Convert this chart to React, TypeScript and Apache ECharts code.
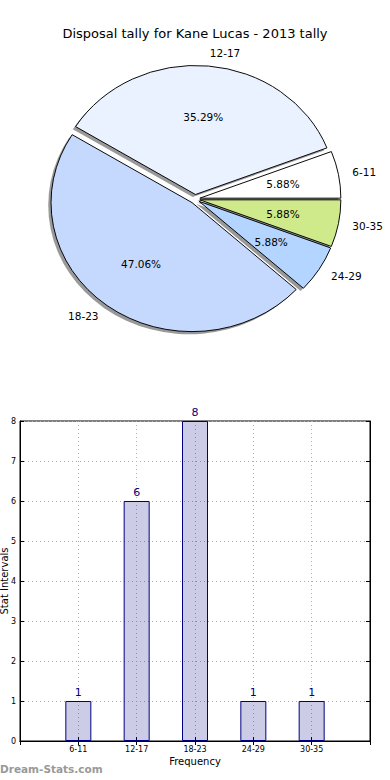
import React, { useEffect, useRef } from "react";
import * as echarts from "echarts";

const titleText = "Disposal tally for Kane Lucas - 2013 tally";
const categories = ["6-11", "12-17", "18-23", "24-29", "30-35"];
const tally = [1, 6, 8, 1, 1];
const yTicks = [0, 1, 2, 3, 4, 5, 6, 7, 8];
const sliceColors = ["#ffffff", "#eaf2ff", "#c5d9ff", "#b3d5ff", "#cfea8b"];

const FONT = "DejaVu Sans, Liberation Sans, sans-serif";

export default function App() {
  const ref = useRef<HTMLDivElement>(null);
  useEffect(() => {
    if (!ref.current) return;
    const chart = echarts.init(ref.current, undefined, { renderer: "svg" });
    const total = tally.reduce((a, b) => a + b, 0);
    const cum: number[] = [];
    let acc = 0;
    for (const v of tally) {
      cum.push(acc);
      acc += v;
    }
    const cx = 195;
    const cy = 199;
    const rx = 141;
    const ry = 129;
    const explode = 0.035;

    const geom = (i: number, v: number) => {
      const a0 = (cum[i] / total) * Math.PI * 2;
      const a1 = ((cum[i] + v) / total) * Math.PI * 2;
      const mid = (a0 + a1) / 2;
      const dx = explode * rx * Math.cos(mid);
      const dy = -explode * ry * Math.sin(mid);
      return { a0, a1, mid, dx, dy };
    };

    const shadowRender = (params: any, api: any) => {
      const i = params.dataIndex;
      const v = api.value(0);
      const g = geom(i, v);
      return {
        type: "sector",
        x: cx + g.dx - 2.8,
        y: cy + g.dy + 2.6,
        scaleY: ry / rx,
        shape: { cx: 0, cy: 0, r: rx, r0: 0, startAngle: -g.a1, endAngle: -g.a0, clockwise: true },
        style: { fill: "rgba(0,0,0,0.4)", stroke: "none" },
      };
    };

    const sliceRender = (params: any, api: any) => {
      const i = params.dataIndex;
      const v = api.value(0);
      const g = geom(i, v);
      const c = Math.cos(g.mid);
      const s = Math.sin(g.mid);
      const pct = ((v / total) * 100).toFixed(2) + "%";
      return {
        type: "group",
        children: [
          {
            type: "sector",
            x: cx + g.dx,
            y: cy + g.dy,
            scaleY: ry / rx,
            shape: { cx: 0, cy: 0, r: rx, r0: 0, startAngle: -g.a1, endAngle: -g.a0, clockwise: true },
            style: { fill: sliceColors[i], stroke: "#000", lineWidth: 1, strokeNoScale: true },
          },
          {
            type: "text",
            x: cx + g.dx + 0.6 * rx * c,
            y: cy + g.dy - 0.6 * ry * s,
            style: {
              text: pct,
              fill: "#000",
              font: `10.5px ${FONT}`,
              align: "center",
              verticalAlign: "middle",
            },
            z2: 20,
          },
          {
            type: "text",
            x: cx + g.dx + 1.1 * rx * c,
            y: cy + g.dy - 1.1 * ry * s,
            style: {
              text: categories[i],
              fill: "#000",
              font: `10.5px ${FONT}`,
              align: c >= 0 ? "left" : "right",
              verticalAlign: "middle",
            },
            z2: 20,
          },
        ],
      };
    };

    const padded = ["", ...categories, ""];
    const barData = [null, ...tally, null];

    chart.setOption({
      animation: false,
      textStyle: { fontFamily: FONT },
      title: {
        text: titleText,
        left: "center",
        top: 22,
        textStyle: { fontSize: 13, fontWeight: "normal", color: "#000", fontFamily: FONT },
      },
      grid: {
        left: 20,
        right: 20,
        top: 421,
        bottom: 39,
        show: true,
        borderColor: "#000",
        borderWidth: 1,
        backgroundColor: "transparent",
        containLabel: false,
        outerBoundsMode: "none",
      },
      xAxis: [
        {
          type: "category",
          data: padded,
          boundaryGap: false,
          axisLine: { show: true, lineStyle: { color: "#000", width: 1 } },
          axisTick: { show: true, inside: true, length: 4, lineStyle: { color: "#000" }, interval: 0 },
          axisLabel: { fontSize: 8, color: "#000", fontFamily: FONT, margin: 4, interval: 0 },
          splitLine: { show: true, interval: 0, lineStyle: { color: "#b0b0b0", type: [1, 3], width: 1 } },
          name: "Frequency",
          nameLocation: "middle",
          nameGap: 15,
          nameMoveOverlap: false,
          nameTextStyle: { fontSize: 10, color: "#000", fontFamily: FONT },
        },
        {
          type: "category",
          data: padded,
          boundaryGap: false,
          position: "top",
          axisLine: { show: true, lineStyle: { color: "#000", width: 1 } },
          axisTick: { show: true, inside: true, length: 4, lineStyle: { color: "#000" }, interval: 0 },
          axisLabel: { show: false },
          splitLine: { show: false },
        },
      ],
      yAxis: [
        {
          type: "value",
          min: yTicks[0],
          max: yTicks[yTicks.length - 1],
          interval: 1,
          axisLine: { show: true, lineStyle: { color: "#000", width: 1 } },
          axisTick: { show: true, inside: true, length: 4, lineStyle: { color: "#000" } },
          axisLabel: { fontSize: 8, color: "#000", fontFamily: FONT, margin: 4 },
          splitLine: { show: true, lineStyle: { color: "#b0b0b0", type: [1, 3], width: 1 } },
          name: "Stat Intervals",
          nameLocation: "middle",
          nameRotate: 90,
          nameGap: 11,
          nameMoveOverlap: false,
          nameTextStyle: { fontSize: 10, color: "#000", fontFamily: FONT },
        },
        {
          type: "value",
          min: yTicks[0],
          max: yTicks[yTicks.length - 1],
          interval: 1,
          position: "right",
          axisLine: { show: true, lineStyle: { color: "#000", width: 1 } },
          axisTick: { show: true, inside: true, length: 4, lineStyle: { color: "#000" } },
          axisLabel: { show: false },
          splitLine: { show: false },
        },
      ],
      series: [
        {
          type: "custom",
          coordinateSystem: "none",
          renderItem: shadowRender,
          data: tally.map((v) => [v]),
          z: 1,
          silent: true,
        },
        {
          type: "custom",
          coordinateSystem: "none",
          renderItem: sliceRender,
          data: tally.map((v) => [v]),
          z: 2,
          silent: true,
        },
        {
          type: "bar",
          xAxisIndex: 0,
          yAxisIndex: 0,
          data: barData,
          barWidth: 26,
          itemStyle: { color: "rgba(0,0,128,0.2)", borderColor: "#000080", borderWidth: 1 },
          label: {
            show: true,
            position: "top",
            distance: 3,
            color: "#000080",
            fontSize: 11,
            fontFamily: FONT,
          },
        },
      ],
      graphic: [
        {
          type: "text",
          left: 0,
          top: 763,
          style: {
            text: "Dream-Stats.com",
            fill: "#999999",
            font: `bold 10.5px ${FONT}`,
          },
        },
      ],
    });
    return () => chart.dispose();
  }, []);
  return (
    <div
      ref={ref}
      style={{ position: "fixed", left: 0, top: 0, width: 390, height: 780, background: "#fff" }}
    />
  );
}
